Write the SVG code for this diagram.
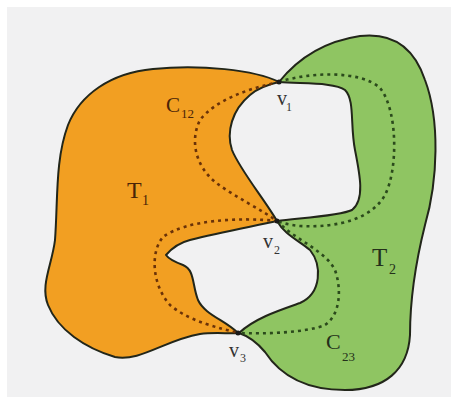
<svg xmlns="http://www.w3.org/2000/svg" width="458" height="404" viewBox="0 0 458 404">
<style>
.region{stroke:#22261a;stroke-width:2;stroke-linejoin:round}
.t1{fill:#f29f22}
.t2{fill:#8fc562}
.dot{fill:none;stroke-width:2.6;stroke-dasharray:3 4;stroke-linecap:butt}
.d1{stroke:#6a3208}
.d2{stroke:#2b4a1c}
.lbl{font-family:"Liberation Serif","Times New Roman",serif}
.sub{font-size:13px}
</style>
<rect x="0" y="0" width="458" height="404" fill="#ffffff"/>
<rect x="7" y="7" width="444" height="390" fill="#f1f1f2"/>
<g id="T1">
<path class="region t1" d="M279,82 C255,70 200,64 153,69 C110,73 80,95 68,125 C55,160 58,200 55,240 C52,265 40,285 48,305 C58,330 85,348 115,357 C140,362 165,340 200,334 C215,332 230,334 238,333 C225,320 205,315 198,300 C192,285 195,270 183,265 C175,262 168,258 166,255 C172,248 178,243 190,240 C220,232 255,226 277,221 C265,200 240,170 232,150 C226,132 232,110 250,95 C258,88 270,84 279,82 Z"/>
<text class="lbl" x="127" y="198" font-size="24" fill="#4a2408">T<tspan x="142" y="205" font-size="14">1</tspan></text>
</g>
<g id="T2">
<path class="region t2" d="M279,82 C295,62 320,42 360,36 C395,32 415,50 425,80 C440,120 438,180 425,225 C415,265 410,300 410,335 C408,370 385,390 345,390 C305,390 280,375 265,352 C255,340 245,335 239,333 C255,318 280,310 300,303 C322,293 322,265 310,250 C298,240 285,235 277,221 C300,218 340,216 352,210 C365,200 360,175 355,150 C350,125 355,100 345,90 C335,82 300,84 279,82 Z"/>
<text class="lbl" x="372" y="266" font-size="25" fill="#24301a">T<tspan x="389" y="274" font-size="14">2</tspan></text>
</g>
<g id="connectors">
<path id="C12a" class="dot d1" d="M279,82 C250,88 215,100 200,120 C190,140 195,165 215,182 C235,197 262,210 277,221"/>
<path id="C12b" class="dot d1" d="M277,221 C240,217 185,220 163,237 C150,252 152,285 170,305 C190,322 220,328 238,333"/>
<path id="C23a" class="dot d2" d="M279,82 C310,72 360,70 380,88 C398,110 398,170 385,195 C372,218 340,228 300,226 C290,225 282,223 277,221"/>
<path id="C23b" class="dot d2" d="M277,221 C295,240 325,250 335,270 C342,290 340,315 325,325 C305,333 265,334 239,333"/>
</g>
<g id="labels">
<text class="lbl" x="166" y="112" font-size="21" fill="#4a2408">C<tspan class="sub" x="181" y="118">12</tspan></text>
<text class="lbl" x="326" y="349" font-size="22" fill="#24301a">C<tspan class="sub" x="342" y="361">23</tspan></text>
</g>
<g id="v1">
<circle cx="279" cy="82" r="2.5" fill="#1a1a1a"/>
<text class="lbl" x="277" y="105" font-size="20" fill="#333">v<tspan x="286" y="111" font-size="12">1</tspan></text>
</g>
<g id="v2">
<circle cx="277" cy="221" r="2.5" fill="#1a1a1a"/>
<text class="lbl" x="263" y="248" font-size="20" fill="#333">v<tspan x="274" y="254" font-size="12">2</tspan></text>
</g>
<g id="v3">
<circle cx="238" cy="333" r="2.5" fill="#1a1a1a"/>
<text class="lbl" x="229" y="357" font-size="20" fill="#333">v<tspan x="240" y="362" font-size="12">3</tspan></text>
</g>
</svg>
